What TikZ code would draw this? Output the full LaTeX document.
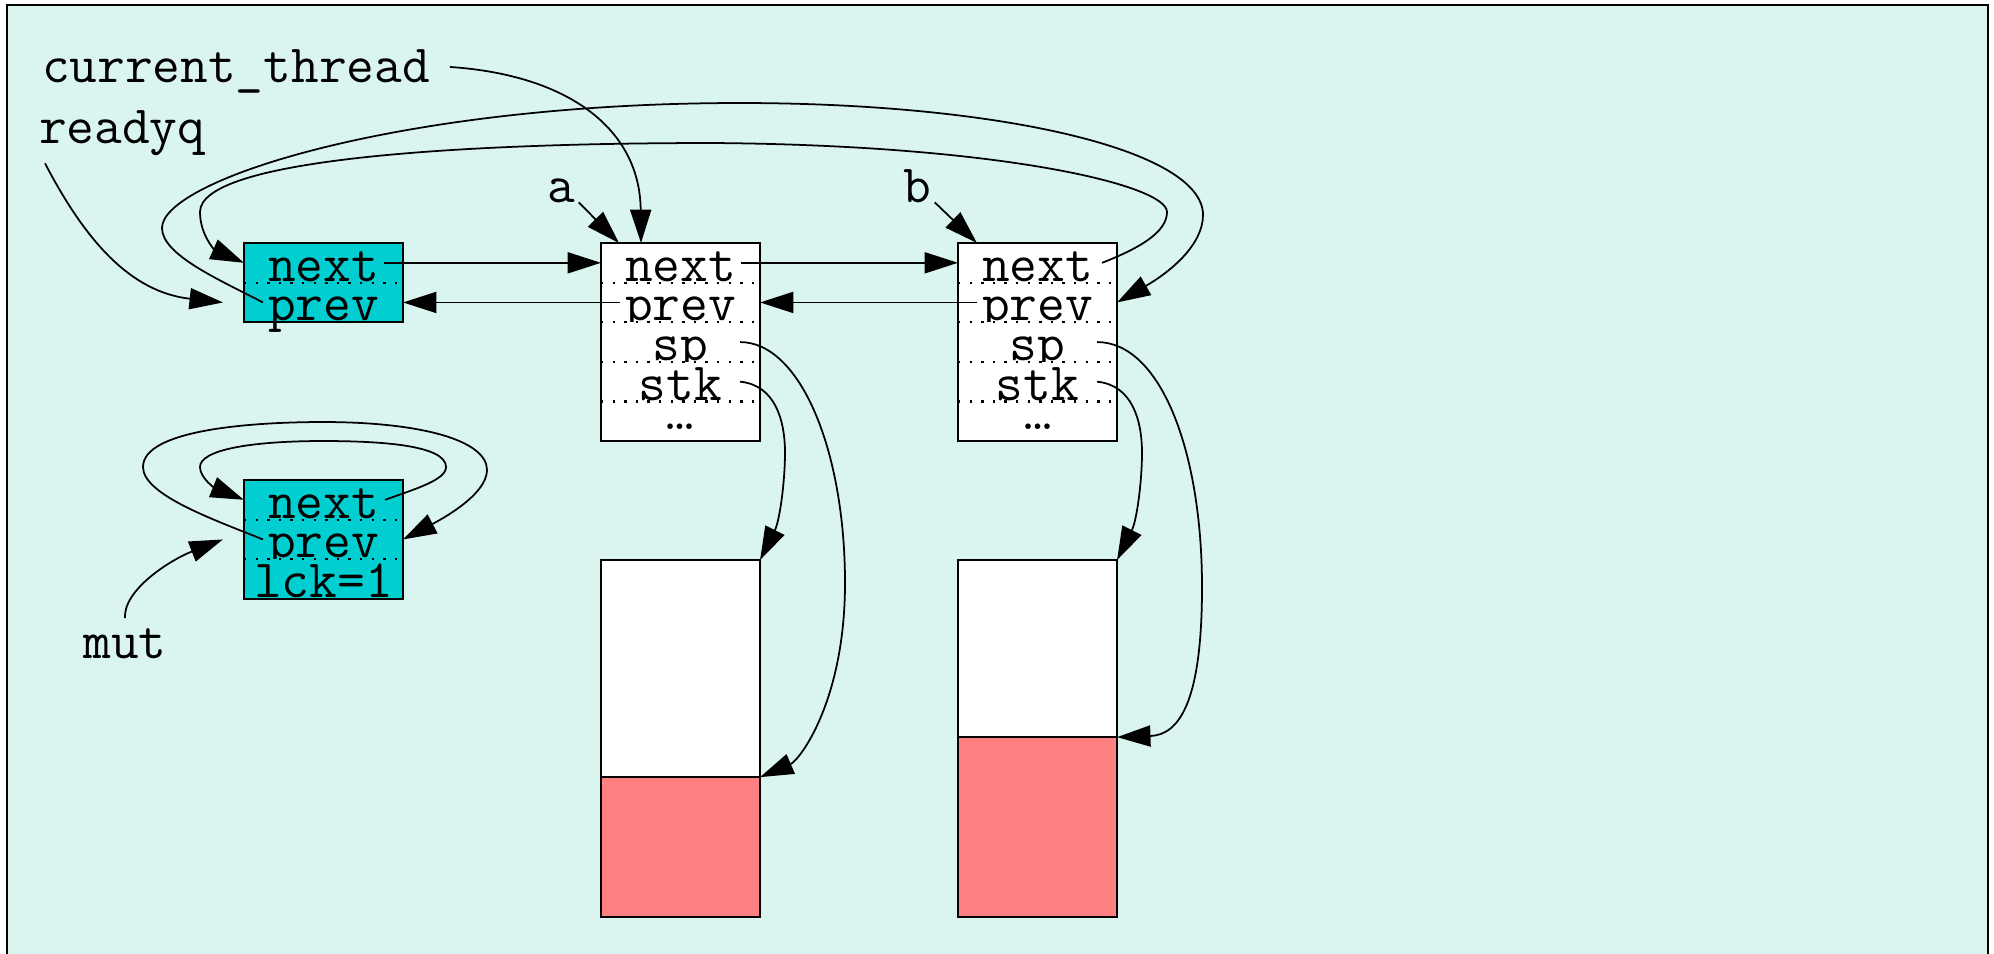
\documentclass[tikz,border=0pt]{standalone}
\usepackage{fontspec}
\usepackage{xcolor}
\usepackage{tikz}
\usetikzlibrary{positioning, arrows.meta}

\definecolor{bgmint}{RGB}{218,245,240}
\definecolor{headcyan}{RGB}{0,206,209}
\definecolor{stkred}{RGB}{255,128,128}

\begin{document}
\begin{tikzpicture}[
    x=0.01cm, y=-0.01cm,
    field/.style={
        rectangle,
        inner sep=0pt,
        outer sep=0pt,
        minimum width=1.59cm,
        minimum height=0.396cm,
        text height=0.37cm,
        text depth=0pt,
        font=\fontsize{15.3pt}{18pt}\selectfont\ttfamily
    },
    lbl/.style={inner sep=0pt, outer sep=0pt, font=\fontsize{15.3pt}{18pt}\selectfont\ttfamily},
    rec/.style={draw=black, line width=0.55pt},
    sep/.style={line width=0.6pt, dash pattern=on 0.7pt off 2.6pt},
    stk/.style={rectangle, draw=black, line width=0.55pt, inner sep=0pt, outer sep=0pt, minimum width=1.59cm},
    ptr/.style={line width=0.5pt, -{Triangle[length=9.5pt,width=6pt]}}
]
\useasboundingbox (0,0) rectangle (1994,953);
\fill[white] (0,0) rectangle (1994,953);
\draw[line width=0.6pt, fill=bgmint] (7,5) rectangle (1988,990);

% Labels
\node[lbl, anchor=base west] (lcur) at (42,82) {current\_thread};
\node[lbl, anchor=base west] (lready) at (39,143) {readyq};
\node[lbl, anchor=base west] (la) at (547,202) {a};
\node[lbl, anchor=base west] (lb) at (903,202) {b};
\node[lbl, anchor=base] (lmut) at (125,658) {mut};

% Queue head
\node[field, fill=headcyan] (hnext) at (323.5,262.8) {next};
\node[field, fill=headcyan, below=0pt of hnext] (hprev) {prev};

% Thread a
\node[field, fill=white] (anext) at (680.5,262.8) {next};
\node[field, fill=white, below=0pt of anext] (aprev) {prev};
\node[field, fill=white, below=0pt of aprev] (asp) {sp};
\node[field, fill=white, below=0pt of asp] (astk) {stk};
\node[field, fill=white, below=0pt of astk] (adots) {\raisebox{0.1cm}{\fontsize{11pt}{11pt}\selectfont\rmfamily\bfseries\dots}};

% Thread b
\node[field, fill=white] (bnext) at (1037.5,262.8) {next};
\node[field, fill=white, below=0pt of bnext] (bprev) {prev};
\node[field, fill=white, below=0pt of bprev] (bsp) {sp};
\node[field, fill=white, below=0pt of bsp] (bstk) {stk};
\node[field, fill=white, below=0pt of bstk] (bdots) {\raisebox{0.1cm}{\fontsize{11pt}{11pt}\selectfont\rmfamily\bfseries\dots}};

% Mutex
\node[field, fill=headcyan] (mnext) at (323.5,499.8) {next};
\node[field, fill=headcyan, below=0pt of mnext] (mprev) {prev};
\node[field, fill=headcyan, below=0pt of mprev] (mlck) {lck=1};

% Stacks
\node[stk, fill=white, minimum height=2.17cm, anchor=north] (sa) at (680.5,560) {};
\node[stk, fill=stkred, minimum height=1.40cm, below=0pt of sa] (sar) {};
\node[stk, fill=white, minimum height=1.77cm, anchor=north] (sb) at (1037.5,560) {};
\node[stk, fill=stkred, minimum height=1.80cm, below=0pt of sb] (sbr) {};

% Separators
\draw[sep] (hnext.south west) -- (hnext.south east);
\draw[sep] (anext.south west) -- (anext.south east);
\draw[sep] (aprev.south west) -- (aprev.south east);
\draw[sep] (asp.south west) -- (asp.south east);
\draw[sep] (astk.south west) -- (astk.south east);
\draw[sep] (bnext.south west) -- (bnext.south east);
\draw[sep] (bprev.south west) -- (bprev.south east);
\draw[sep] (bsp.south west) -- (bsp.south east);
\draw[sep] (bstk.south west) -- (bstk.south east);
\draw[sep] (mnext.south west) -- (mnext.south east);
\draw[sep] (mprev.south west) -- (mprev.south east);

% Borders
\draw[rec] (hnext.north west) rectangle (hprev.south east);
\draw[rec] (anext.north west) rectangle (adots.south east);
\draw[rec] (bnext.north west) rectangle (bdots.south east);
\draw[rec] (mnext.north west) rectangle (mlck.south east);

% Arrows
\draw[ptr] ([xshift=-0.19cm]hnext.east) -- (anext.west);
\draw[ptr] ([xshift=0.19cm]aprev.west) -- (hprev.east);
\draw[ptr] ([xshift=-0.19cm]anext.east) -- (bnext.west);
\draw[ptr] ([xshift=0.19cm]bprev.west) -- (aprev.east);

\draw[ptr] ([xshift=-0.15cm]bnext.east) .. controls (1140,248) and (1167,232) .. (1167,212)
    .. controls (1167,185) and (1000,145) .. (712,143)
    .. controls (450,143) and (200,160) .. (200,212)
    .. controls (200,235) and (215,250) .. (hnext.west);
\draw[ptr] ([xshift=0.19cm]hprev.west) .. controls (220,280) and (162,255) .. (162,228)
    .. controls (162,180) and (400,103) .. (740,103)
    .. controls (1000,103) and (1203,150) .. (1203,215)
    .. controls (1203,245) and (1170,272) .. (bprev.east);

\draw[ptr] ([xshift=0.2cm,yshift=0.04cm]lcur.east) .. controls (570,75) and (640,130) .. ([xshift=0.4cm]anext.north west);
\draw[ptr] ([xshift=0.06cm,yshift=-0.08cm]lready.south west) .. controls (85,240) and (130,292) .. ([xshift=-0.21cm]hprev.west);
\draw[ptr] ([xshift=0.04cm]la.south east) -- ([xshift=0.18cm]anext.north west);
\draw[ptr] ([xshift=0.04cm]lb.south east) -- ([xshift=0.19cm]bnext.north west);

\draw[ptr] ([xshift=-0.2cm]asp.east) .. controls (800,342) and (845,450) .. (845,583)
    .. controls (845,700) and (800,760) .. (sar.north east);
\draw[ptr] ([xshift=-0.2cm]astk.east) .. controls (775,385) and (785,420) .. (785,453)
    .. controls (785,480) and (780,520) .. (sa.north east);
\draw[ptr] ([xshift=-0.2cm]bsp.east) .. controls (1160,342) and (1202,450) .. (1202,587)
    .. controls (1202,700) and (1180,735) .. (sbr.north east);
\draw[ptr] ([xshift=-0.2cm]bstk.east) .. controls (1132,385) and (1142,420) .. (1142,453)
    .. controls (1142,480) and (1137,520) .. (sb.north east);

\draw[ptr] ([xshift=-0.18cm]mnext.east) .. controls (415,489) and (446,480) .. (446,467)
    .. controls (446,445) and (380,441) .. (323,441)
    .. controls (250,441) and (200,450) .. (200,467)
    .. controls (200,478) and (215,488) .. (mnext.west);
\draw[ptr] ([xshift=0.19cm]mprev.west) .. controls (215,520) and (143,495) .. (143,467)
    .. controls (143,430) and (250,422) .. (323,422)
    .. controls (420,422) and (487,440) .. (487,470)
    .. controls (487,495) and (440,520) .. (mprev.east);
\draw[ptr] ([yshift=0.1cm]lmut.north) .. controls (123,590) and (170,560) .. ([xshift=-0.21cm]mprev.west);

\end{tikzpicture}
\end{document}
